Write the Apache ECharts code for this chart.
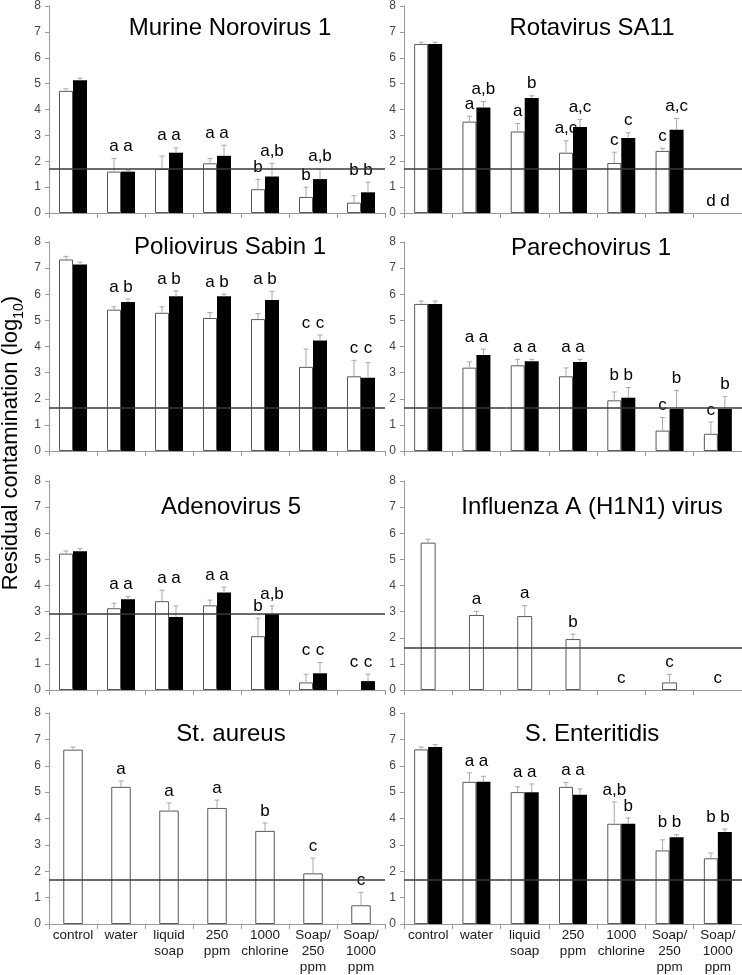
<!DOCTYPE html>
<html><head><meta charset="utf-8">
<script src="https://cdn.jsdelivr.net/npm/echarts@6/dist/echarts.min.js"></script>
<style>html,body{margin:0;padding:0;background:#fff}#c{width:742px;height:975px}</style>
</head><body><div id="c"></div>
<script>
// ---------- data ----------
const categories = ['control', 'water', 'liquid\nsoap', '250\nppm', '1000\nchlorine', 'Soap/\n250\nppm', 'Soap/\n1000\nppm'];
const yTickMin = 0, yTickMax = 8, yTickStep = 1;

// Murine Norovirus 1
const mnvWhite = [4.72, 1.6, 1.7, 1.92, 0.92, 0.62, 0.4];
const mnvWhiteErr = [0.08, 0.51, 0.5, 0.19, 0.38, 0.38, 0.27];
const mnvWhiteLetters = ['', 'a', 'a', 'a', 'b', 'b', 'b'];
const mnvBlack = [5.13, 1.6, 2.33, 2.21, 1.41, 1.31, 0.8];
const mnvBlackErr = [0.08, 0.05, 0.19, 0.41, 0.51, 0.4, 0.39];
const mnvBlackLetters = ['', 'a', 'a', 'a', 'a,b', 'a,b', 'b'];
const mnvLimit = 1.72;

// Rotavirus SA11
const rvWhite = [6.53, 3.53, 3.15, 2.33, 1.93, 2.4, 0];
const rvWhiteErr = [0.07, 0.21, 0.31, 0.46, 0.42, 0.1, 0];
const rvWhiteLetters = ['', 'a', 'a', 'a,c', 'c', 'c', 'd'];
const rvBlack = [6.53, 4.08, 4.44, 3.32, 2.9, 3.22, 0];
const rvBlackErr = [0.07, 0.23, 0.09, 0.3, 0.2, 0.43, 0];
const rvBlackLetters = ['', 'a,b', 'b', 'a,c', 'c', 'a,c', 'd'];
const rvLimit = 1.72;

// Poliovirus Sabin 1
const pvWhite = [7.33, 5.41, 5.29, 5.09, 5.05, 3.22, 2.86];
const pvWhiteErr = [0.12, 0.11, 0.23, 0.21, 0.21, 0.68, 0.61];
const pvWhiteLetters = ['', 'a', 'a', 'a', 'a', 'c', 'c'];
const pvBlack = [7.14, 5.7, 5.92, 5.92, 5.78, 4.23, 2.8];
const pvBlackErr = [0.09, 0.12, 0.21, 0.08, 0.32, 0.21, 0.58];
const pvBlackLetters = ['', 'b', 'b', 'b', 'b', 'c', 'c'];
const pvLimit = 1.67;

// Parechovirus 1
const pevWhite = [5.63, 3.19, 3.28, 2.86, 1.94, 0.78, 0.66];
const pevWhiteErr = [0.11, 0.22, 0.23, 0.32, 0.32, 0.5, 0.45];
const pevWhiteLetters = ['', 'a', 'a', 'a', 'b', 'c', 'c'];
const pevBlack = [5.63, 3.67, 3.44, 3.41, 2.04, 1.61, 1.61];
const pevBlackErr = [0.11, 0.23, 0.07, 0.1, 0.39, 0.71, 0.48];
const pevBlackLetters = ['', 'a', 'a', 'a', 'b', 'b', 'b'];
const pevLimit = 1.67;

// Adenovirus 5
const adWhite = [5.22, 3.13, 3.4, 3.24, 2.06, 0.29, 0];
const adWhiteErr = [0.1, 0.19, 0.42, 0.2, 0.69, 0.31, 0];
const adWhiteLetters = ['', 'a', 'a', 'a', 'b', 'c', 'c'];
const adBlack = [5.31, 3.47, 2.79, 3.73, 2.91, 0.64, 0.34];
const adBlackErr = [0.1, 0.11, 0.43, 0.21, 0.31, 0.41, 0.27];
const adBlackLetters = ['', 'a', 'a', 'a', 'a,b', 'c', 'c'];
const adLimit = 2.91;

// Influenza A (H1N1) virus
const fluWhite = [5.64, 2.87, 2.83, 1.95, 0, 0.29, 0];
const fluWhiteErr = [0.13, 0.14, 0.4, 0.19, 0, 0.31, 0];
const fluWhiteLetters = ['', 'a', 'a', 'b', 'c', 'c', 'c'];
const fluLimit = 1.63;

// St. aureus
const saWhite = [6.61, 5.2, 4.3, 4.4, 3.53, 1.92, 0.71];
const saWhiteErr = [0.1, 0.22, 0.29, 0.3, 0.3, 0.58, 0.49];
const saWhiteLetters = ['', 'a', 'a', 'a', 'b', 'c', 'c'];
const saLimit = 1.66;

// S. Enteritidis
const seWhite = [6.62, 5.39, 5.0, 5.2, 3.8, 2.79, 2.49];
const seWhiteErr = [0.09, 0.34, 0.2, 0.17, 0.83, 0.4, 0.2];
const seWhiteLetters = ['', 'a', 'a', 'a', 'a,b', 'b', 'b'];
const seBlack = [6.71, 5.39, 5.0, 4.9, 3.8, 3.29, 3.49];
const seBlackErr = [0.09, 0.21, 0.31, 0.22, 0.22, 0.1, 0.11];
const seBlackLetters = ['', 'a', 'a', 'a', 'b', 'b', 'b'];
const seLimit = 1.66;

// ---------- layout / style ----------
const FONT = '"Liberation Sans", Arial, Helvetica, sans-serif';
const NARROW = '"Liberation Sans Narrow", "Arial Narrow", "Liberation Sans", Arial, sans-serif';
const L = { left: 49, width: 336 }, R = { left: 404, width: 338 };
const rows = [{ top: 5, height: 208 }, { top: 242, height: 209 }, { top: 481, height: 209 }, { top: 713, height: 211 }];

const panels = [
  { title: 'Murine Norovirus 1', tx: 230, ty: 28, col: L, row: 0, w: mnvWhite, we: mnvWhiteErr, wl: mnvWhiteLetters, b: mnvBlack, be: mnvBlackErr, bl: mnvBlackLetters, limit: mnvLimit, merge: true },
  { title: 'Rotavirus SA11', tx: 592, ty: 28, col: R, row: 0, w: rvWhite, we: rvWhiteErr, wl: rvWhiteLetters, b: rvBlack, be: rvBlackErr, bl: rvBlackLetters, limit: rvLimit, merge: false },
  { title: 'Poliovirus Sabin 1', tx: 230, ty: 247, col: L, row: 1, w: pvWhite, we: pvWhiteErr, wl: pvWhiteLetters, b: pvBlack, be: pvBlackErr, bl: pvBlackLetters, limit: pvLimit, merge: true },
  { title: 'Parechovirus 1', tx: 591, ty: 248, col: R, row: 1, w: pevWhite, we: pevWhiteErr, wl: pevWhiteLetters, b: pevBlack, be: pevBlackErr, bl: pevBlackLetters, limit: pevLimit, merge: true },
  { title: 'Adenovirus 5', tx: 231, ty: 507, col: L, row: 2, w: adWhite, we: adWhiteErr, wl: adWhiteLetters, b: adBlack, be: adBlackErr, bl: adBlackLetters, limit: adLimit, merge: true },
  { title: 'Influenza A (H1N1) virus', tx: 592, ty: 507, col: R, row: 2, w: fluWhite, we: fluWhiteErr, wl: fluWhiteLetters, limit: fluLimit, single: 15 },
  { title: 'St. aureus', tx: 231, ty: 734, col: L, row: 3, w: saWhite, we: saWhiteErr, wl: saWhiteLetters, limit: saLimit, single: 19.5 },
  { title: 'S. Enteritidis', tx: 592, ty: 734, col: R, row: 3, w: seWhite, we: seWhiteErr, wl: seWhiteLetters, b: seBlack, be: seBlackErr, bl: seBlackLetters, limit: seLimit, merge: true }
];

// letters of a pair sit on one level when both are single letters in order (e.g. "a a", "a b")
function labelLevels(p) {
  const lw = [], lb = [];
  for (let i = 0; i < categories.length; i++) {
    const tw = p.w[i] + p.we[i];
    if (!p.b) { lw.push(tw); continue; }
    const tb = p.b[i] + p.be[i];
    let a = tw, c = tb;
    const L1 = p.wl[i], L2 = p.bl[i];
    if (p.merge && L1 && L2 && L1.indexOf(',') < 0 && L2.indexOf(',') < 0 && L1 <= L2) {
      a = c = Math.max(tw, tb);
    }
    lw.push(a); lb.push(c);
  }
  return [lw, lb];
}

function errSeries(k, vals, errs, letters, levels, offset) {
  return {
    type: 'custom', xAxisIndex: k, yAxisIndex: k, z: 4, silent: true,
    data: vals.map((v, i) => [i, v, errs[i]]),
    encode: { x: 0, y: 1 },
    renderItem: function (params, api) {
      const i = api.value(0), v = api.value(1), e = api.value(2);
      const base = api.coord([i, v]);
      const x = base[0] + offset;
      const children = [];
      if (e > 0) {
        const top = api.coord([i, v + e])[1];
        children.push({ type: 'line', shape: { x1: x, y1: base[1], x2: x, y2: top }, style: { stroke: '#a8a8a8', lineWidth: 1 } });
        children.push({ type: 'line', shape: { x1: x - 2.5, y1: top, x2: x + 2.5, y2: top }, style: { stroke: '#a8a8a8', lineWidth: 1 } });
      }
      const txt = letters[params.dataIndex];
      if (txt) {
        const ly = api.coord([i, levels[params.dataIndex]])[1] - 12;
        children.push({ type: 'text', x: x, y: ly, style: { text: txt, fill: '#000', font: '17px ' + FONT, align: 'center', verticalAlign: 'middle', textAlign: 'center', textVerticalAlign: 'middle' } });
      }
      return { type: 'group', children: children };
    }
  };
}

// zero-height bars are not outlined
function barData(vals) {
  return vals.map(v => v === 0 ? { value: 0, itemStyle: { borderWidth: 0, opacity: 0 } } : v);
}

const grid = [], xAxis = [], yAxis = [], series = [], title = [];
panels.forEach((p, k) => {
  const row = rows[p.row];
  grid.push({ left: p.col.left, width: p.col.width, top: row.top, height: row.height, containLabel: false });
  const bottomRow = p.row === 3;
  xAxis.push({
    type: 'category', gridIndex: k, data: categories, boundaryGap: true,
    axisLine: { lineStyle: { color: '#9a9a9a', width: 1 } },
    axisTick: { show: true, length: 5, lineStyle: { color: '#9a9a9a' } },
    axisLabel: { show: bottomRow, interval: 0, color: '#1a1a1a', fontSize: 13.5, lineHeight: 16, margin: 3, fontFamily: FONT }
  });
  yAxis.push({
    type: 'value', gridIndex: k, min: yTickMin, max: yTickMax, interval: yTickStep,
    splitLine: { show: false },
    axisLine: { show: true, lineStyle: { color: '#9a9a9a', width: 1 } },
    axisTick: { show: true, length: 4, lineStyle: { color: '#9a9a9a' } },
    axisLabel: { color: '#444', fontSize: 12, margin: 8, fontFamily: NARROW }
  });
  title.push({ text: p.title, left: p.tx, top: p.ty, textAlign: 'center', textVerticalAlign: 'middle', padding: 0, textStyle: { fontSize: 24, fontWeight: 'normal', color: '#000', fontFamily: FONT } });

  const [lw, lb] = labelLevels(p);
  const two = !!p.b;
  const bw = two ? 14 : p.single;
  series.push({
    type: 'bar', xAxisIndex: k, yAxisIndex: k, data: barData(p.w), barWidth: bw, barGap: '0%', silent: true,
    itemStyle: { color: '#fff', borderColor: '#5a5a5a', borderWidth: 1 },
    markLine: { silent: true, symbol: 'none', label: { show: false }, lineStyle: { color: '#3a3a3a', width: 1.6, type: 'solid' }, data: [{ yAxis: p.limit }] }
  });
  if (two) {
    series.push({ type: 'bar', xAxisIndex: k, yAxisIndex: k, data: barData(p.b), barWidth: bw, barGap: '0%', silent: true, itemStyle: { color: '#000' } });
  }
  series.push(errSeries(k, p.w, p.we, p.wl, lw, two ? -7 : 0));
  if (two) series.push(errSeries(k, p.b, p.be, p.bl, lb, 7));
});

const chart = echarts.init(document.getElementById('c'), null, { renderer: 'canvas' });
chart.setOption({
  animation: false,
  backgroundColor: '#fff',
  title: title, grid: grid, xAxis: xAxis, yAxis: yAxis, series: series,
  graphic: [{
    type: 'text', x: 11, y: 443, rotation: Math.PI / 2, silent: true,
    style: {
      text: '{a|Residual contamination (log}{s|10}{a|)}',
      align: 'center', verticalAlign: 'middle', textAlign: 'center', textVerticalAlign: 'middle',
      fill: '#000',
      rich: {
        a: { fontSize: 22, fontFamily: FONT, lineHeight: 30, fill: '#000', color: '#000' },
        s: { fontSize: 14, fontFamily: FONT, lineHeight: 14, verticalAlign: 'bottom', fill: '#000', color: '#000' }
      }
    }
  }]
});
</script>
</body></html>
